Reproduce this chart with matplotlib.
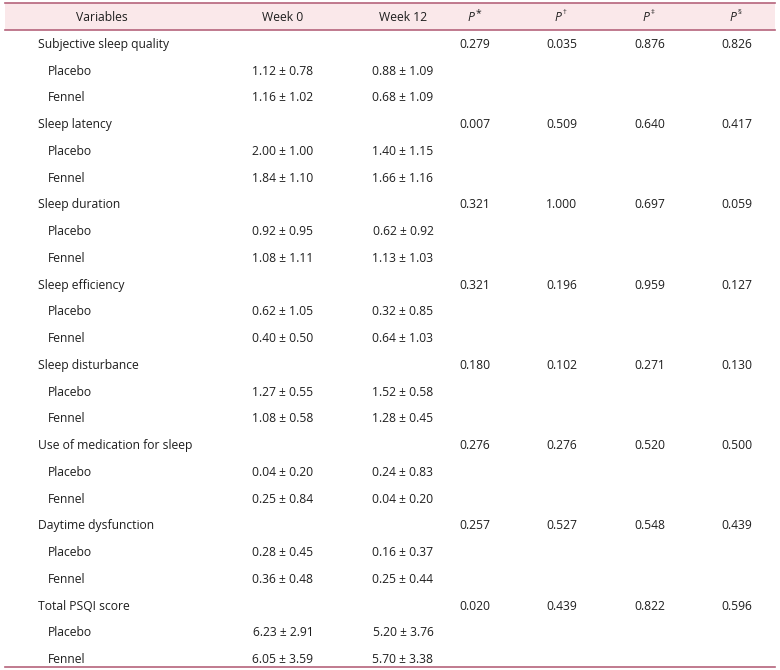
import matplotlib.pyplot as plt
from matplotlib.patches import Rectangle

variables = ["Subjective sleep quality", "Sleep latency", "Sleep duration",
             "Sleep efficiency", "Sleep disturbance", "Use of medication for sleep",
             "Daytime dysfunction", "Total PSQI score"]
groups = ["Placebo", "Fennel"]
week0 = [["1.12 ± 0.78", "1.16 ± 1.02"], ["2.00 ± 1.00", "1.84 ± 1.10"],
         ["0.92 ± 0.95", "1.08 ± 1.11"], ["0.62 ± 1.05", "0.40 ± 0.50"],
         ["1.27 ± 0.55", "1.08 ± 0.58"], ["0.04 ± 0.20", "0.25 ± 0.84"],
         ["0.28 ± 0.45", "0.36 ± 0.48"], ["6.23 ± 2.91", "6.05 ± 3.59"]]
week12 = [["0.88 ± 1.09", "0.68 ± 1.09"], ["1.40 ± 1.15", "1.66 ± 1.16"],
          ["0.62 ± 0.92", "1.13 ± 1.03"], ["0.32 ± 0.85", "0.64 ± 1.03"],
          ["1.52 ± 0.58", "1.28 ± 0.45"], ["0.24 ± 0.83", "0.04 ± 0.20"],
          ["0.16 ± 0.37", "0.25 ± 0.44"], ["5.20 ± 3.76", "5.70 ± 3.38"]]
p1 = ["0.279", "0.007", "0.321", "0.321", "0.180", "0.276", "0.257", "0.020"]
p2 = ["0.035", "0.509", "1.000", "0.196", "0.102", "0.276", "0.527", "0.439"]
p3 = ["0.876", "0.640", "0.697", "0.959", "0.271", "0.520", "0.548", "0.822"]
p4 = ["0.826", "0.417", "0.059", "0.127", "0.130", "0.500", "0.439", "0.596"]
headers = ["Variables", "Week 0", "Week 12"]
p_headers = ["*", "†", "‡", "§"]

plt.rcParams['font.family'] = ['Open Sans', 'DejaVu Sans']
line_col = "#b5637c"
fill_col = "#fae8ea"
txt_col = "#1e1e1e"
fs = 8.7

fig = plt.figure(figsize=(7.8, 6.7), dpi=100)
ax = fig.add_axes([0, 0, 1, 1])
ax.set_xlim(0, 780)
ax.set_ylim(670, 0)
ax.axis("off")

# header band
ax.add_patch(Rectangle((5, 3), 770, 27, facecolor=fill_col, edgecolor="none"))
for y in (3, 30, 667):
    ax.plot([5, 775], [y, y], color=line_col, lw=1.2)

hx = [102, 283, 403]
for x, h in zip(hx, headers):
    ax.text(x, 17.5, h, ha="center", va="center", fontsize=fs, color=txt_col)
px = [475, 562, 650, 737]
for x, s in zip(px, p_headers):
    ax.text(x - 4, 17.5, "P", ha="center", va="center", fontsize=fs, color=txt_col,
            style="italic")
    fsz = 7.5 if s == "*" else 5.5
    ax.text(x + 1, 14 if s == "*" else 12.5, s, ha="left", va="center",
            fontsize=fsz, color=txt_col)

y0, dy = 44.5, 26.74
for i, var in enumerate(variables):
    yv = y0 + 3 * i * dy
    ax.text(38, yv, var, ha="left", va="center", fontsize=fs, color=txt_col)
    for x, col in zip(px, (p1, p2, p3, p4)):
        ax.text(x, yv, col[i], ha="center", va="center", fontsize=fs, color=txt_col)
    for j, g in enumerate(groups):
        yg = yv + (j + 1) * dy
        ax.text(48, yg, g, ha="left", va="center", fontsize=fs, color=txt_col)
        ax.text(283, yg, week0[i][j], ha="center", va="center", fontsize=fs, color=txt_col)
        ax.text(403, yg, week12[i][j], ha="center", va="center", fontsize=fs, color=txt_col)

fig.savefig("out.png", dpi=100, facecolor="white")
